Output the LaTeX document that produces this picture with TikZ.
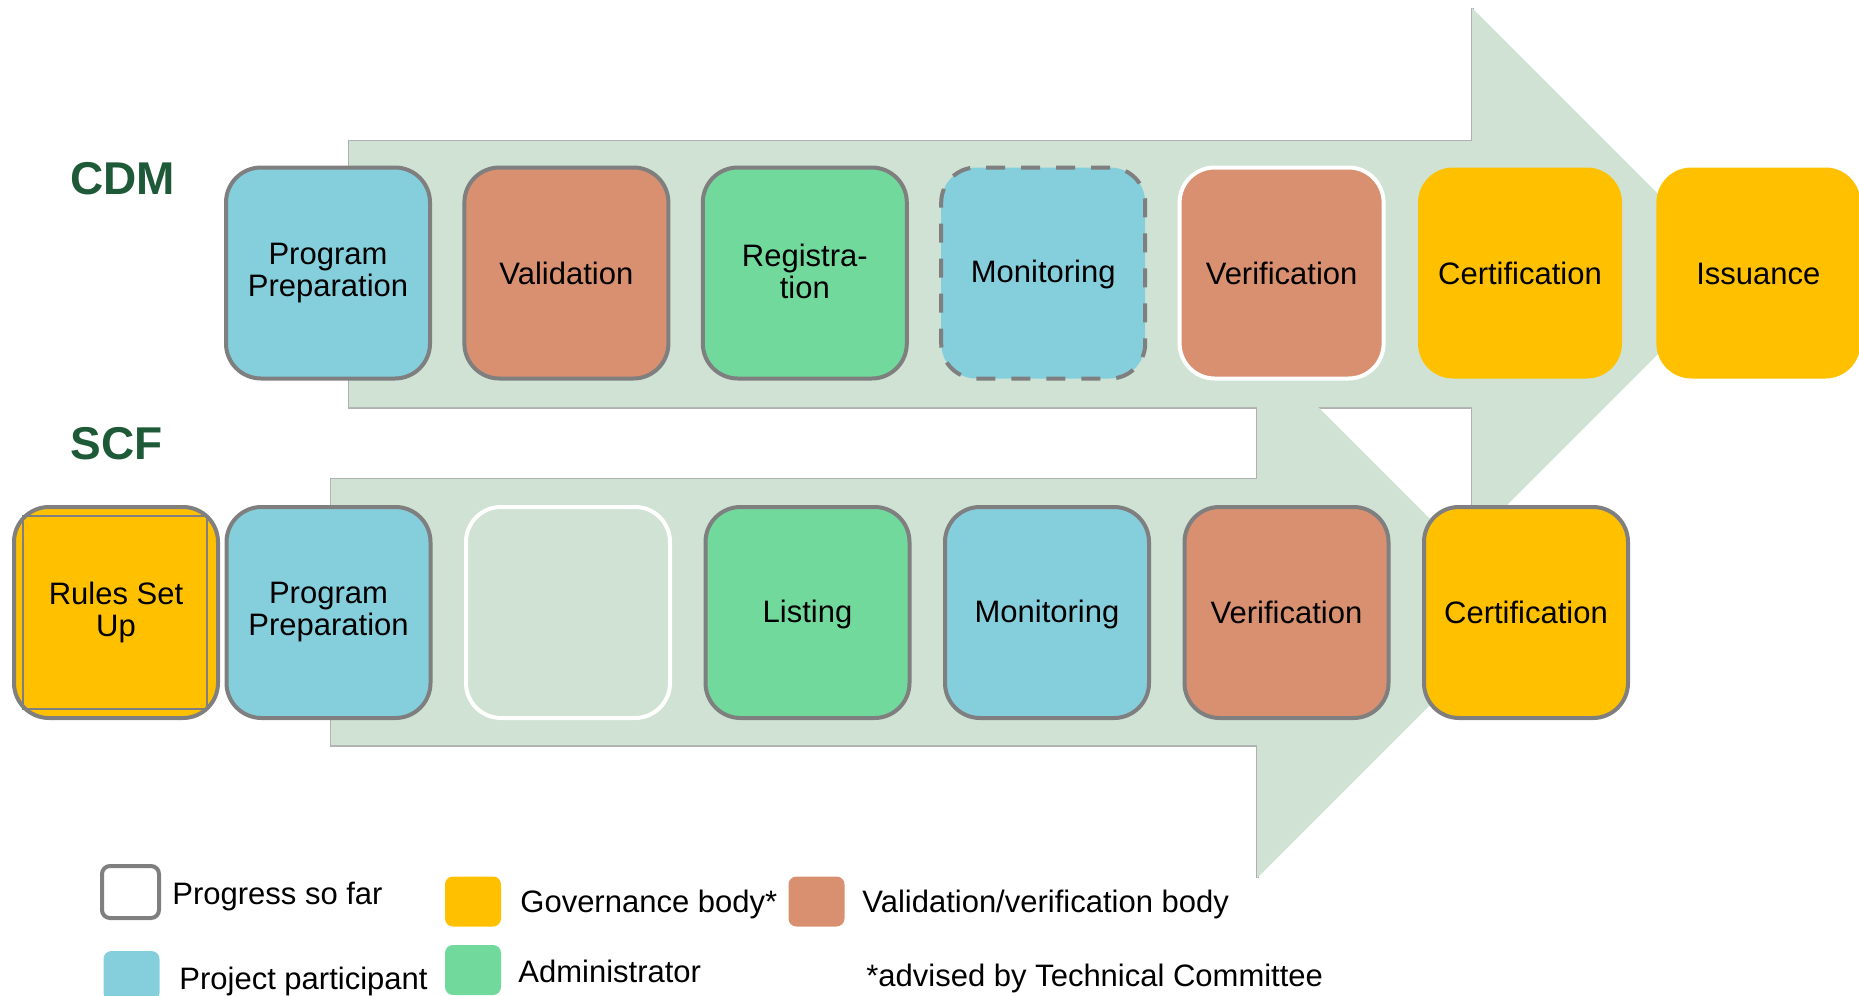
\documentclass[tikz,border=0pt]{standalone}
\usepackage{fontspec}
\setmainfont{Liberation Sans}
\definecolor{pblue}{HTML}{85CFDC}
\definecolor{porange}{HTML}{D89070}
\definecolor{pgreen}{HTML}{72D99D}
\definecolor{pyellow}{HTML}{FFC000}
\definecolor{parrow}{HTML}{CFE2D4}
\definecolor{pborder}{HTML}{7F7F7F}
\definecolor{poutline}{HTML}{B0B0B0}
\definecolor{plabel}{HTML}{1E5A37}
\newcommand\capstrut{\rule[-1.9pt]{0pt}{14.9pt}}
\begin{document}
\begin{tikzpicture}[x=0.5pt,y=-0.5pt,
  stage/.style={rounded corners=17.5pt, minimum width=102pt, minimum height=105.5pt,
    inner sep=0pt, align=center, font=\fontsize{15.5}{16}\selectfont, line width=2pt,
    execute at begin node=\capstrut, execute at end node=\capstrut},
  grayb/.style={draw=pborder},
  whiteb/.style={draw=white},
  dashb/.style={draw=pborder, dash pattern=on 9.5pt off 8pt},
  rowlabel/.style={anchor=base west, inner sep=0pt, text=plabel, font=\fontsize{23}{26}\selectfont\bfseries},
  legtext/.style={anchor=base west, inner sep=0pt, font=\fontsize{15.5}{16}\selectfont},
  legbox/.style={rounded corners=4pt, inner sep=0pt, minimum width=28pt, minimum height=25pt},
  arrowshape/.style={fill=parrow},
  arrowline/.style={draw=poutline, line width=1.5pt}
]
\useasboundingbox (0,0) rectangle (1859,996);

% arrows: outline (straight edges only) first, then fill so only the union boundary remains
\draw[arrowline] (1472,8) -- (1472,141) -- (349,141) -- (349,407) -- (1472,407) -- (1472,540);
\draw[arrowline] (1257,346) -- (1257,479) -- (331,479) -- (331,745) -- (1257,745) -- (1257,878);
\fill[arrowshape]
  (349,141) -- (1472,141) -- (1472,8) -- (1738,274) -- (1472,540) -- (1472,407) -- (349,407) -- cycle;
\fill[arrowshape]
  (331,479) -- (1257,479) -- (1257,346) -- (1523,612) -- (1257,878) -- (1257,745) -- (331,745) -- cycle;

% row labels
\node[rowlabel] (cdm) at (70,194) {CDM};
\node[rowlabel] (scf) at (70,459) {SCF};

% CDM row
\node[stage, grayb, fill=pblue] (c1) at (328,273) {Program\\Preparation};
\node[stage, grayb, fill=porange] (c2) at (566.4,273) {Validation};
\node[stage, grayb, fill=pgreen] (c3) at (804.8,273) {Registra-\\tion};
\node[stage, dashb, fill=pblue] (c4) at (1043.2,273) {Monitoring};
\node[stage, whiteb, fill=porange] (c5) at (1281.6,273) {Verification};
\node[stage, fill=pyellow] (c6) at (1520,273) {Certification};
\node[stage, fill=pyellow] (c7) at (1758.4,273) {Issuance};

% SCF row
\node[stage, grayb, fill=pyellow] (s0) at (116,612.5) {};
\draw[pborder, line width=1pt] (23,516) rectangle (207,709);
\node[align=center, inner sep=0pt, font=\fontsize{15.5}{16}\selectfont,
  execute at begin node=\capstrut, execute at end node=\capstrut] (s0t) at (s0.center) {Rules Set\\Up};
\node[stage, grayb, fill=pblue] (s1) at (328.5,612.5) {Program\\Preparation};
\node[stage, whiteb] (s2) at (568,612.5) {};
\node[stage, grayb, fill=pgreen] (s3) at (807.5,612.5) {Listing};
\node[stage, grayb, fill=pblue] (s4) at (1047,612.5) {Monitoring};
\node[stage, grayb, fill=porange] (s5) at (1286.5,612.5) {Verification};
\node[stage, grayb, fill=pyellow] (s6) at (1526,612.5) {Certification};

% legend
\node[legbox, draw=pborder, line width=2pt, fill=white, minimum width=28.5pt, minimum height=26pt] (l1) at (130.5,892) {};
\node[legtext] (l1t) at (172,904) {Progress so far};
\node[legbox, fill=pyellow] (l2) at (473,901.5) {};
\node[legtext] (l2t) at (520,912) {Governance body*};
\node[legbox, fill=porange] (l3) at (816.5,901.5) {};
\node[legtext] (l3t) at (862,912) {Validation/verification body};
\node[legbox, fill=pblue] (l4) at (131.5,976) {};
\node[legtext] (l4t) at (179,989) {Project participant};
\node[legbox, fill=pgreen] (l5) at (473,970) {};
\node[legtext] (l5t) at (518,982) {Administrator};
\node[legtext] (l6t) at (866,986) {*advised by Technical Committee};
\end{tikzpicture}
\end{document}
